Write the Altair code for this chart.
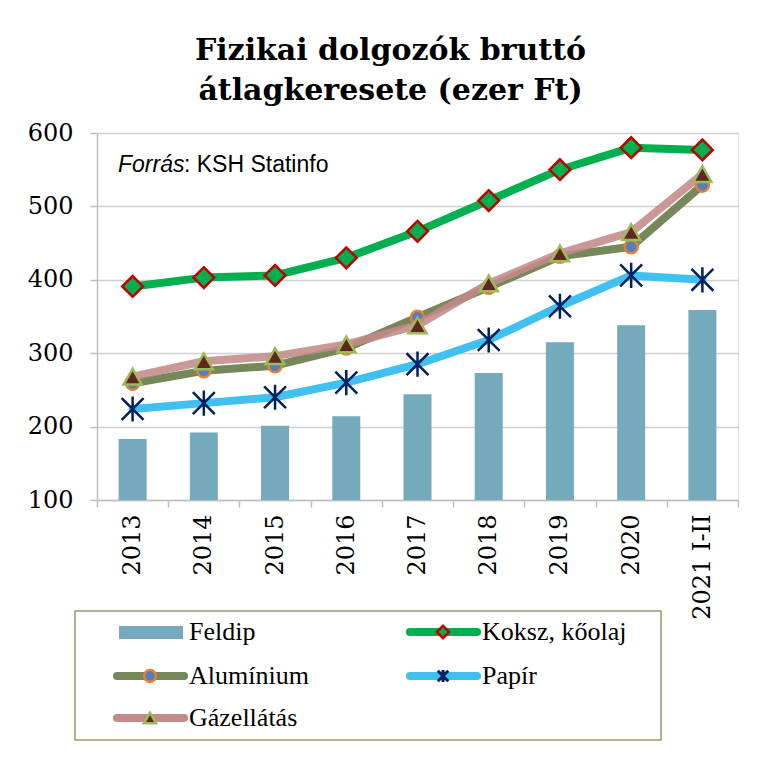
import altair as alt
import pandas as pd

# ---------------- data ----------------
years = ["2013", "2014", "2015", "2016", "2017", "2018", "2019", "2020", "2021 I-II"]
feldip = [183, 192, 201, 214, 244, 273, 315, 338, 359]
koksz = [391, 403, 406, 430, 466, 508, 550, 580, 577]
aluminium = [259, 276, 283, 307, 349, 390, 432, 445, 529]
papir = [224, 232, 240, 260, 285, 318, 364, 406, 400]
gazellatas = [268, 289, 296, 312, 338, 395, 436, 465, 544]

series_names = ["Feldip", "Koksz, kőolaj", "Alumínium", "Papír", "Gázellátás"]
y_ticks = [100, 200, 300, 400, 500, 600]
title_lines = ["Fizikai dolgozók bruttó", "átlagkeresete (ezer Ft)"]
source_italic = "Forrás"
source_rest = ": KSH Statinfo"

W, H = 641, 367
SERIF = "DejaVu Serif"
LEG_FONT = "Liberation Serif"

ASTERISK = "M-1,-1L1,1M-1,1L1,-1M0,-1.15L0,1.15"

x_enc = alt.X(
    "year:N",
    sort=years,
    scale=alt.Scale(paddingInner=0, paddingOuter=0),
    axis=alt.Axis(
        title=None, labelAngle=270, labelFont=SERIF, labelFontSize=24,
        labelColor="black", labelPadding=7, tickSize=7, tickBand="extent",
        domainColor="#bfbfbf", tickColor="#bfbfbf", domainWidth=1.5, tickWidth=1.5,
        grid=False,
    ),
)
y_scale = alt.Scale(domain=[100, 600], nice=False, zero=False)
y_enc = alt.Y(
    "value:Q",
    scale=y_scale,
    axis=alt.Axis(
        title=None, values=y_ticks, labelFont=SERIF, labelFontSize=24,
        labelColor="black", labelPadding=17, tickSize=7, grid=True,
        gridColor="#d0d0d0", gridWidth=1.5, domainColor="#bfbfbf",
        tickColor="#bfbfbf", domainWidth=1.5, tickWidth=1.5,
    ),
)

bar_df = pd.DataFrame({"year": years, "value": feldip})
bars = alt.Chart(bar_df).mark_bar(size=28, color="#74aabb").encode(
    x=x_enc, y=y_enc, y2=alt.datum(100)
)

def df_for(vals, name):
    return pd.DataFrame({"year": years, "value": vals, "series": name})

styles = {
    "Koksz, kőolaj": dict(vals=koksz, line="#00b050", shape="diamond", size=430,
                          fill="#00b050", stroke="#c00000", sw=2.5, lop=1.0),
    "Alumínium": dict(vals=aluminium, line="#76875a", shape="circle", size=170,
                      fill="#4f81bd", stroke="#ed7d31", sw=2.5, lop=1.0),
    "Papír": dict(vals=papir, line="#40c0f0", shape=ASTERISK, size=480,
                  fill=None, stroke="#002060", sw=2.5, lop=1.0),
    "Gázellátás": dict(vals=gazellatas, line="#c48a8a", shape="triangle-up", size=330,
                       fill="#632523", stroke="#9bbb59", sw=2.5, lop=0.88),
}

layers = [bars]
for name in ["Koksz, kőolaj", "Alumínium", "Papír", "Gázellátás"]:
    s = styles[name]
    d = df_for(s["vals"], name)
    base = alt.Chart(d)
    layers.append(base.mark_line(strokeWidth=8, color=s["line"], opacity=s["lop"],
                                 strokeJoin="round", strokeCap="round").encode(x=x_enc, y=y_enc))
    if s["fill"] is None:
        pts = base.mark_point(shape=s["shape"], size=s["size"], filled=False,
                              stroke=s["stroke"], strokeWidth=s["sw"], opacity=1)
    else:
        pts = base.mark_point(shape=s["shape"], size=s["size"], filled=True,
                              fill=s["fill"], stroke=s["stroke"], strokeWidth=s["sw"],
                              opacity=1, fillOpacity=1, strokeOpacity=1)
    layers.append(pts.encode(x=x_enc, y=y_enc))

# ---------------- source note ----------------
src_df = pd.DataFrame({"a": [source_italic], "b": [source_rest]})
layers.append(alt.Chart(src_df).mark_text(
    align="left", baseline="alphabetic", font="Liberation Sans", fontSize=23,
    fontStyle="italic", color="black").encode(
    x=alt.value(21), y=alt.value(39), text="a:N"))
layers.append(alt.Chart(src_df).mark_text(
    align="left", baseline="alphabetic", font="Liberation Sans", fontSize=23,
    color="black").encode(
    x=alt.value(87), y=alt.value(39), text="b:N"))

# ---------------- manual legend (below plot) ----------------
box_df = pd.DataFrame({"a": [0]})
layers.append(alt.Chart(box_df).mark_rect(
    fill="white", fillOpacity=0, stroke="#a0976a", strokeWidth=1.5).encode(
    x=alt.value(-22), x2=alt.value(564), y=alt.value(478), y2=alt.value(607)))

legend_pos = {  # column, row
    "Feldip": (0, 0), "Koksz, kőolaj": (1, 0), "Alumínium": (0, 1),
    "Papír": (1, 1), "Gázellátás": (0, 2),
}
col_x = [18, 311]
row_y = [499, 543, 585]
for name in series_names:
    c, r = legend_pos[name]
    x0 = col_x[c]
    yc = row_y[r]
    nd = pd.DataFrame({"name": [name]})
    nc = alt.Chart(nd)
    if name == "Feldip":
        layers.append(nc.mark_rect(color="#74aabb").encode(
            x=alt.value(x0 + 4), x2=alt.value(x0 + 68),
            y=alt.value(yc - 6), y2=alt.value(yc + 7)))
    else:
        s = styles[name]
        layers.append(nc.mark_rule(strokeWidth=8, color=s["line"], strokeCap="round").encode(
            x=alt.value(x0 + 2), x2=alt.value(x0 + 69), y=alt.value(yc)))
        small = {"diamond": 150, "circle": 140, "triangle-up": 150}.get(s["shape"], 110)
        if s["fill"] is None:
            mk = nc.mark_point(shape=s["shape"], size=small, filled=False,
                               stroke=s["stroke"], strokeWidth=3, opacity=1)
        else:
            mk = nc.mark_point(shape=s["shape"], size=small, filled=True,
                               fill=s["fill"], stroke=s["stroke"], strokeWidth=2.5,
                               opacity=1, fillOpacity=1, strokeOpacity=1)
        layers.append(mk.encode(x=alt.value(x0 + 35), y=alt.value(yc)))
    layers.append(nc.mark_text(align="left", baseline="alphabetic", font=LEG_FONT,
                               fontSize=26, color="black").encode(
        x=alt.value(x0 + 74), y=alt.value(yc + 8), text="name:N"))

chart = alt.layer(*layers).properties(
    width=W, height=H,
    title=alt.TitleParams(
        title_lines, font=SERIF, fontSize=30, fontWeight="bold", color="black",
        anchor="middle", frame="group", dx=-27, offset=15, lineHeight=40,
    ),
    padding={"left": 19, "top": 28, "right": 5, "bottom": 5},
).configure_view(stroke="#c8c8c8", strokeWidth=1.5).configure(background="white")

chart.save("out.html", embed_options={"renderer": "svg", "actions": False})
